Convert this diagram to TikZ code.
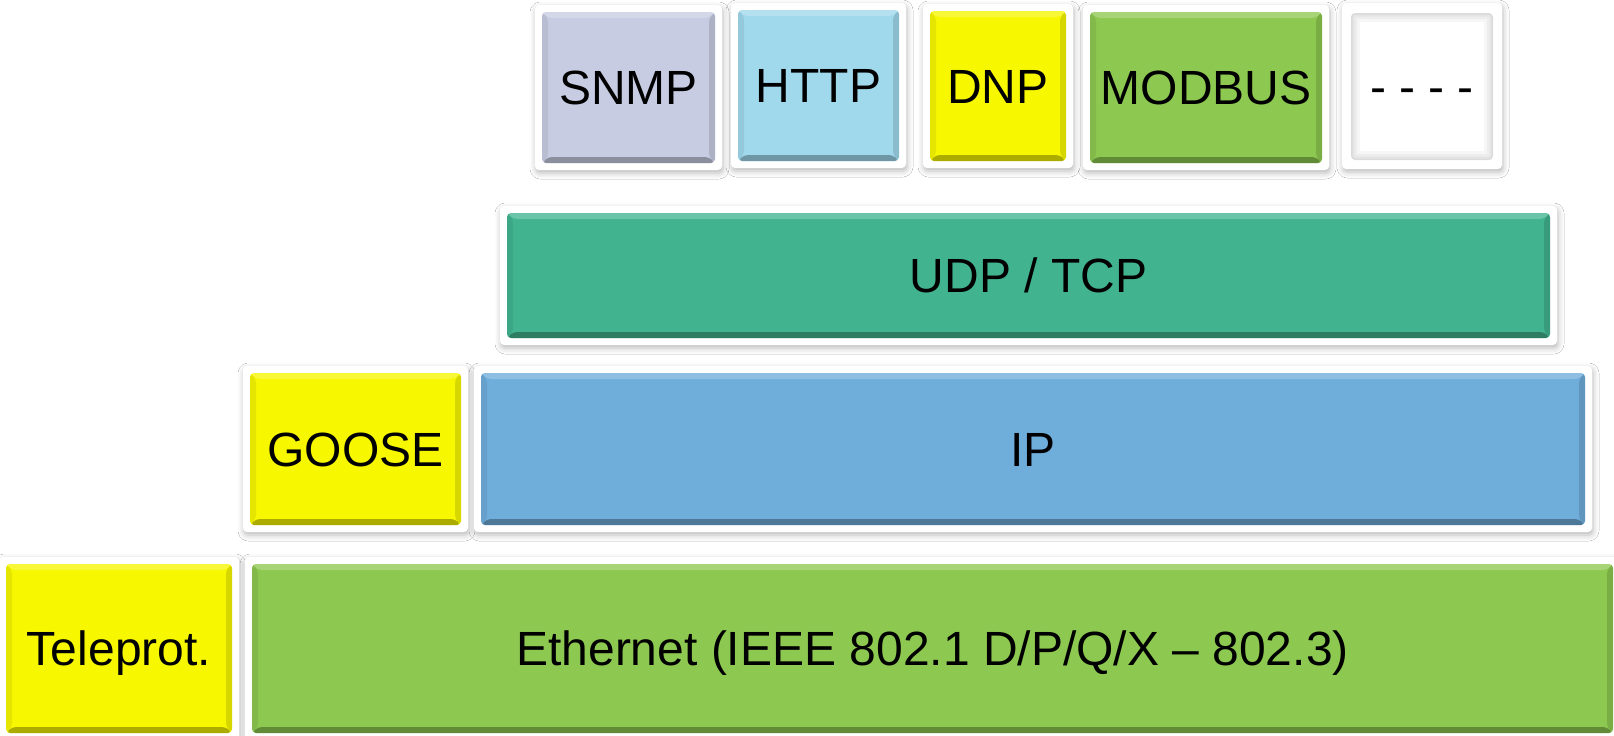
\documentclass[tikz,border=0pt]{standalone}
\usepackage{fontspec}
\setmainfont{Liberation Sans}
\usetikzlibrary{shadows.blur}

\definecolor{snmpc}{RGB}{200,204,226}
\definecolor{httpc}{RGB}{160,216,236}
\definecolor{yelc}{RGB}{247,247,0}
\definecolor{grnc}{RGB}{141,200,80}
\definecolor{tealc}{RGB}{65,180,143}
\definecolor{bluec}{RGB}{111,173,219}

% coloured face with bevelled edges, inset in the white frame
\newcommand\bevelface[1]{%
  \coordinate (bA) at ([shift={(7pt,7pt)}]path picture bounding box.south west);
  \coordinate (bB) at ([shift={(-7pt,-7pt)}]path picture bounding box.north east);
  \coordinate (bC) at (bA |- bB);
  \coordinate (bD) at (bB |- bA);
  \fill[#1] (bA) rectangle (bB);
  \fill[white,opacity=.22] (bC) -- (bB) -- ([shift={(-6pt,-6pt)}]bB) -- ([shift={(6pt,-6pt)}]bC) -- cycle;
  \fill[black,opacity=.30] (bA) -- (bD) -- ([shift={(-6pt,6pt)}]bD) -- ([shift={(6pt,6pt)}]bA) -- cycle;
  \fill[black,opacity=.07] (bA) -- (bC) -- ([shift={(6pt,-6pt)}]bC) -- ([shift={(6pt,6pt)}]bA) -- cycle;
  \fill[black,opacity=.13] (bD) -- (bB) -- ([shift={(-6pt,-6pt)}]bB) -- ([shift={(-6pt,6pt)}]bD) -- cycle;
}
% empty white face with a soft inner shadow
\newcommand\hollowface{%
  \coordinate (bA) at ([shift={(9pt,9pt)}]path picture bounding box.south west);
  \coordinate (bB) at ([shift={(-9pt,-10pt)}]path picture bounding box.north east);
  \begin{scope}
    \clip (bA) rectangle (bB);
    \foreach \w in {18,12,7,3} {\draw[black,opacity=.035,line width=\w pt] (bA) rectangle (bB);}
  \end{scope}
}

\tikzset{
  layer/.style={fill=white, rounded corners=4pt, inner sep=0pt, outer sep=0pt,
    blur shadow={shadow xshift=1pt, shadow yshift=-3pt, shadow blur radius=6pt, shadow opacity=28},
    text height=34.4pt, text depth=0pt,
    font=\fontsize{48}{56}\selectfont, text=black,
    path picture={\bevelface{#1}}},
  hollow/.style={fill=white, rounded corners=4pt, inner sep=0pt, outer sep=0pt,
    blur shadow={shadow xshift=1pt, shadow yshift=-3pt, shadow blur radius=6pt, shadow opacity=28},
    text height=34.4pt, text depth=0pt,
    font=\fontsize{48}{56}\selectfont, text=black,
    path picture={\hollowface}},
}

\begin{document}
\begin{tikzpicture}[x=1pt,y=-1pt]
  \useasboundingbox (0,0) rectangle (1614,736);
  \fill[white] (0,0) rectangle (1614,736);

  % application protocols
  \node[layer=snmpc, minimum width=187pt, minimum height=165pt] (snmp) at (628.5,87.5) {SNMP};
  \node[layer=httpc, minimum width=175pt, minimum height=165pt] (http) at (818.5,85.5) {HTTP};
  \node[layer=yelc,  minimum width=150pt, minimum height=164pt] (dnp) at (998,86) {DNP};
  \node[layer=grnc,  minimum width=246pt, minimum height=165pt] (modbus) at (1206,87.5) {MODBUS};
  \node[hollow, minimum width=160pt, minimum height=166pt] (more) at (1422,86) {- - - -};

  % transport
  \node[layer=tealc, minimum width=1057pt, minimum height=139pt] (udp) at (1028.5,275.5) {UDP / TCP};

  % network
  \node[layer=yelc,  minimum width=225pt, minimum height=166pt] (goose) at (355.5,449) {GOOSE};
  \node[layer=bluec, minimum width=1118pt, minimum height=166pt] (ip) at (1033,449) {IP};

  % link
  \node[layer=yelc, minimum width=240pt, minimum height=183pt] (telep) at (119,648.5) {Teleprot.};
  \node[layer=grnc, minimum width=1375pt, minimum height=183pt] (eth) at (932.5,648.5) {Ethernet (IEEE 802.1 D/P/Q/X -- 802.3)};
\end{tikzpicture}
\end{document}
